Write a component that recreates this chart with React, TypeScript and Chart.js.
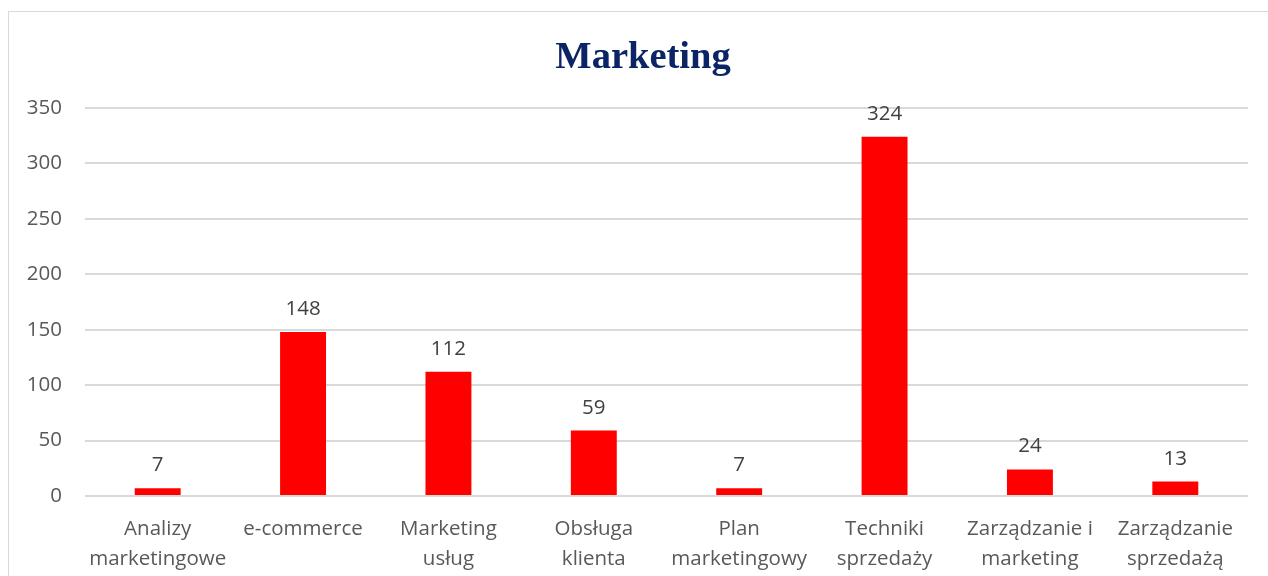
import React, { useEffect, useRef } from "react";
import { Chart, registerables } from "chart.js";

Chart.register(...registerables);

const categories: string[][] = [
  ["Analizy", "marketingowe"],
  ["e-commerce"],
  ["Marketing", "usług"],
  ["Obsługa", "klienta"],
  ["Plan", "marketingowy"],
  ["Techniki", "sprzedaży"],
  ["Zarządzanie i", "marketing"],
  ["Zarządzanie", "sprzedażą"],
];
const values: number[] = [7, 148, 112, 59, 7, 324, 24, 13];
const titleText = "Marketing";
const yMax = 350;
const yStep = 50;

const FONT = "'Open Sans', sans-serif";

export default function App() {
  const ref = useRef<HTMLCanvasElement | null>(null);

  useEffect(() => {
    document.body.style.overflow = "hidden";
    const canvas = ref.current;
    if (!canvas) return;

    const labelPlugin = {
      id: "valueLabels",
      afterDatasetsDraw(chart: any) {
        const ctx = chart.ctx;
        const meta = chart.getDatasetMeta(0);
        ctx.save();
        ctx.fillStyle = "#404040";
        ctx.font = `20.5px ${FONT}`;
        ctx.textAlign = "center";
        ctx.textBaseline = "alphabetic";
        meta.data.forEach((bar: any, i: number) => {
          ctx.fillText(String(values[i]), bar.x, bar.y - 17);
        });
        ctx.restore();
      },
    };

    const titlePlugin = {
      id: "customTitle",
      afterDraw(chart: any) {
        const ctx = chart.ctx;
        ctx.save();
        ctx.fillStyle = "#0b2466";
        ctx.font = `bold 38.5px 'Liberation Serif', serif`;
        ctx.textAlign = "center";
        ctx.textBaseline = "alphabetic";
        ctx.fillText(titleText, 634, 56);
        ctx.restore();
      },
    };

    const chart = new Chart(canvas, {
      type: "bar",
      data: {
        labels: categories,
        datasets: [
          {
            data: values,
            backgroundColor: "#ff0000",
            borderWidth: 0,
            barPercentage: 0.316,
            categoryPercentage: 1,
          },
        ],
      },
      options: {
        animation: false,
        responsive: false,
        maintainAspectRatio: false,
        layout: { padding: { top: 96, right: 20, left: 0, bottom: 0 } },
        plugins: {
          legend: { display: false },
          title: { display: false },
          tooltip: { enabled: false },
        },
        scales: {
          x: {
            grid: { display: false, drawTicks: false },
            border: { display: false },
            ticks: {
              color: "#595959",
              font: { family: FONT, size: 20.5, lineHeight: 1.46 },
              padding: 18,
              maxRotation: 0,
              autoSkip: false,
            },
            afterFit(scale: any) {
              scale.height = 80;
            },
          },
          y: {
            min: 0,
            max: yMax,
            grid: { color: "#d9d9d9", lineWidth: 2, drawTicks: false },
            border: { display: false },
            ticks: {
              stepSize: yStep,
              color: "#595959",
              font: { family: FONT, size: 20.5 },
              padding: 23,
            },
            afterFit(scale: any) {
              scale.width = 76;
            },
          },
        },
      },
      plugins: [labelPlugin, titlePlugin],
    });

    return () => chart.destroy();
  }, []);

  return (
    <div
      style={{
        position: "fixed",
        left: 8,
        top: 11,
        width: 1260,
        height: 565,
        borderTop: "1px solid #d9d9d9",
        borderLeft: "1px solid #d9d9d9",
        boxSizing: "border-box",
        background: "#fff",
        overflow: "hidden",
      }}
    >
      <canvas ref={ref} width={1259} height={564} style={{ display: "block" }} />
    </div>
  );
}
